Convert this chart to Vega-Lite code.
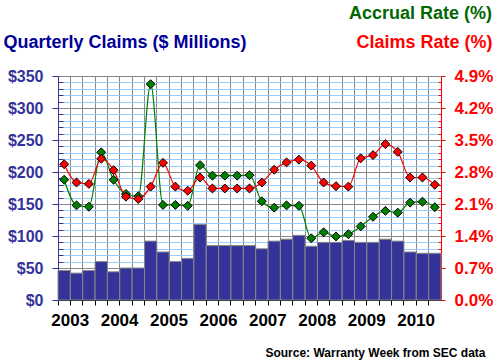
{
  "$schema": "https://vega.github.io/schema/vega-lite/v6.json",
  "width": 383,
  "height": 224,
  "autosize": "none",
  "padding": {"left": 58, "top": 76, "right": 56, "bottom": 62},
  "background": "white",
  "config": {"view": {"stroke": null}, "font": "Liberation Sans"},
  "title": {"text": "Accrual Rate (%)", "anchor": "end", "frame": "group", "color": "#006600", "fontSize": 18, "fontWeight": "bold", "font": "Liberation Sans", "dx": 51, "offset": 10},
  "data": {"values": [
    {"quarter": "2003 Q1", "claims": 46, "claimsRate": 2.97, "accrualRate": 2.63},
    {"quarter": "2003 Q2", "claims": 42, "claimsRate": 2.57, "accrualRate": 2.07},
    {"quarter": "2003 Q3", "claims": 46, "claimsRate": 2.54, "accrualRate": 2.04},
    {"quarter": "2003 Q4", "claims": 60, "claimsRate": 3.09, "accrualRate": 3.23},
    {"quarter": "2004 Q1", "claims": 44, "claimsRate": 2.84, "accrualRate": 2.63},
    {"quarter": "2004 Q2", "claims": 50, "claimsRate": 2.26, "accrualRate": 2.32},
    {"quarter": "2004 Q3", "claims": 50, "claimsRate": 2.21, "accrualRate": 2.27},
    {"quarter": "2004 Q4", "claims": 92, "claimsRate": 2.48, "accrualRate": 4.72},
    {"quarter": "2005 Q1", "claims": 75, "claimsRate": 3.0, "accrualRate": 2.08},
    {"quarter": "2005 Q2", "claims": 60, "claimsRate": 2.48, "accrualRate": 2.08},
    {"quarter": "2005 Q3", "claims": 65, "claimsRate": 2.39, "accrualRate": 2.06},
    {"quarter": "2005 Q4", "claims": 118, "claimsRate": 2.68, "accrualRate": 2.95},
    {"quarter": "2006 Q1", "claims": 85, "claimsRate": 2.44, "accrualRate": 2.72},
    {"quarter": "2006 Q2", "claims": 85, "claimsRate": 2.44, "accrualRate": 2.72},
    {"quarter": "2006 Q3", "claims": 85, "claimsRate": 2.44, "accrualRate": 2.72},
    {"quarter": "2006 Q4", "claims": 85, "claimsRate": 2.44, "accrualRate": 2.73},
    {"quarter": "2007 Q1", "claims": 80, "claimsRate": 2.57, "accrualRate": 2.16},
    {"quarter": "2007 Q2", "claims": 92, "claimsRate": 2.85, "accrualRate": 2.02},
    {"quarter": "2007 Q3", "claims": 95, "claimsRate": 3.01, "accrualRate": 2.07},
    {"quarter": "2007 Q4", "claims": 101, "claimsRate": 3.07, "accrualRate": 2.06},
    {"quarter": "2008 Q1", "claims": 84, "claimsRate": 2.94, "accrualRate": 1.35},
    {"quarter": "2008 Q2", "claims": 90, "claimsRate": 2.57, "accrualRate": 1.48},
    {"quarter": "2008 Q3", "claims": 90, "claimsRate": 2.49, "accrualRate": 1.39},
    {"quarter": "2008 Q4", "claims": 93, "claimsRate": 2.48, "accrualRate": 1.44},
    {"quarter": "2009 Q1", "claims": 90, "claimsRate": 3.1, "accrualRate": 1.61},
    {"quarter": "2009 Q2", "claims": 90, "claimsRate": 3.17, "accrualRate": 1.82},
    {"quarter": "2009 Q3", "claims": 95, "claimsRate": 3.41, "accrualRate": 1.95},
    {"quarter": "2009 Q4", "claims": 92, "claimsRate": 3.24, "accrualRate": 1.91},
    {"quarter": "2010 Q1", "claims": 75, "claimsRate": 2.68, "accrualRate": 2.13},
    {"quarter": "2010 Q2", "claims": 73, "claimsRate": 2.68, "accrualRate": 2.15},
    {"quarter": "2010 Q3", "claims": 73, "claimsRate": 2.52, "accrualRate": 2.03}
  ]},
  "layer": [
    {
      "mark": {"type": "bar", "fill": "#333399", "stroke": "#888888", "strokeWidth": 1},
      "encoding": {
        "x": {
          "field": "quarter", "type": "ordinal", "sort": null,
          "scale": {"paddingInner": 0, "paddingOuter": 0},
          "axis": {
            "title": "Source: Warranty Week from SEC data",
            "titleX": 427, "titleY": 56, "titleAlign": "right", "titleBaseline": "alphabetic",
            "titleFontSize": 12, "titleFontWeight": "bold", "titleColor": "black",
            "labelAngle": 0,
            "labelExpr": "slice(datum.value, 5) == 'Q1' ? slice(datum.value, 0, 4) : ''",
            "bandPosition": 0, "labelOffset": 6,
            "labelFontSize": 17, "labelFontWeight": "bold", "labelColor": "black",
            "labelOverlap": false, "labelFlush": false, "labelBound": false,
            "tickColor": "black", "tickSize": 5, "labelPadding": 7,
            "grid": true, "gridColor": "#888888", "gridOpacity": 1,
            "domainColor": "black"
          }
        },
        "y": {
          "field": "claims", "type": "quantitative",
          "scale": {"domain": [0, 350], "nice": false},
          "axis": {
            "title": "Quarterly Claims ($ Millions)",
            "titleAngle": 0, "titleAlign": "left", "titleBaseline": "alphabetic",
            "titleX": -55, "titleY": -29, "titleColor": "#000099",
            "titleFontSize": 18, "titleFontWeight": "bold",
            "values": [0,10,20,30,40,50,60,70,80,90,100,110,120,130,140,150,160,170,180,190,200,210,220,230,240,250,260,270,280,290,300,310,320,330,340,350],
            "labelExpr": "datum.value % 50 === 0 ? '$' + datum.value : ''",
            "labelColor": "#333399", "labelFontSize": 16, "labelFontWeight": "bold", "labelPadding": 9,
            "tickColor": "#333399",
            "tickSize": {"condition": {"test": "datum.value % 50 === 0", "value": 6}, "value": -5},
            "domainColor": "#333399",
            "grid": true, "gridOpacity": 1,
            "gridColor": {"condition": {"test": "datum.value % 50 === 0", "value": "#888888"}, "value": "#99ccff"}
          }
        }
      }
    },
    {
      "transform": [{"fold": ["accrualRate", "claimsRate"], "as": ["series", "rate"]}],
      "encoding": {
        "x": {"field": "quarter", "type": "ordinal", "sort": null},
        "y": {
          "field": "rate", "type": "quantitative",
          "scale": {"domain": [0, 4.9], "nice": false},
          "axis": {
            "orient": "right",
            "title": "Claims Rate (%)",
            "titleAngle": 0, "titleAlign": "right", "titleBaseline": "alphabetic",
            "titleX": 51, "titleY": -29, "titleColor": "#ff0000",
            "titleFontSize": 18, "titleFontWeight": "bold",
            "values": [0,0.14,0.28,0.42,0.56,0.7,0.84,0.98,1.12,1.26,1.4,1.54,1.68,1.82,1.96,2.1,2.24,2.38,2.52,2.66,2.8,2.94,3.08,3.22,3.36,3.5,3.64,3.78,3.92,4.06,4.2,4.34,4.48,4.62,4.76,4.9],
            "labelExpr": "round(datum.value * 100) % 70 === 0 ? format(datum.value, '.1f') + '%' : ''",
            "labelColor": "#ff0000", "labelFontSize": 17, "labelFontWeight": "bold", "labelPadding": 9,
            "tickColor": "#ff0000",
            "tickSize": {"condition": {"test": "round(datum.value * 100) % 70 === 0", "value": 4}, "value": -3},
            "domainColor": "#ff0000",
            "grid": false
          }
        },
        "color": {
          "field": "series", "type": "nominal",
          "scale": {"domain": ["accrualRate", "claimsRate"], "range": ["#008000", "#ff0000"]},
          "legend": null
        }
      },
      "layer": [
        {"mark": {"type": "line", "interpolate": "monotone", "strokeWidth": 1.2}},
        {"mark": {"type": "point", "shape": "diamond", "filled": true, "size": 80, "stroke": "black", "strokeWidth": 1, "opacity": 1}}
      ]
    }
  ],
  "resolve": {"scale": {"y": "independent"}}
}
